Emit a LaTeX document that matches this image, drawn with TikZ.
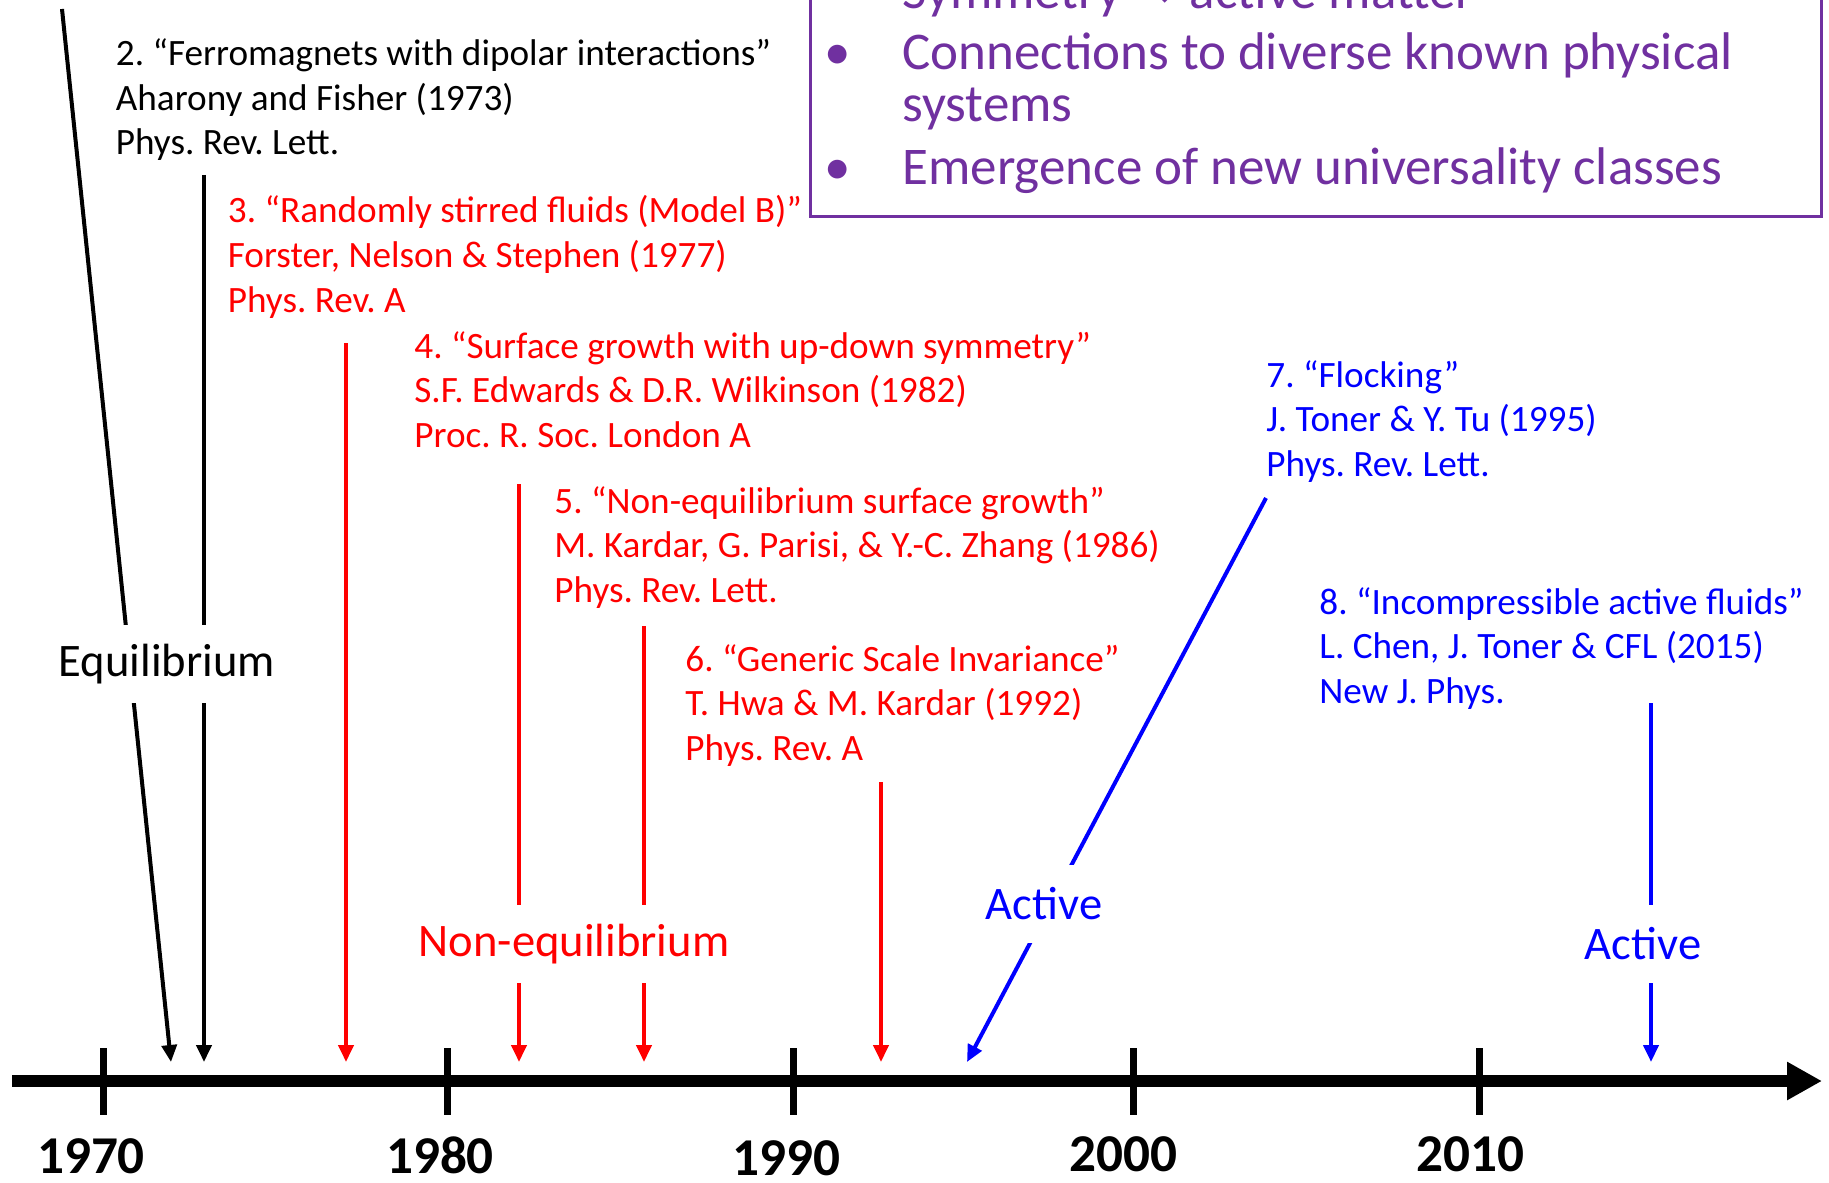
\documentclass[tikz,border=0pt]{standalone}
\usepackage{fontspec}
\setmainfont{Carlito}
\newfontfamily\symbolfont{DejaVu Sans}
\usetikzlibrary{arrows.meta}
\definecolor{pptpurple}{HTML}{7030A0}
\frenchspacing

\tikzset{
  paper/.style={anchor=base west, align=left, inner sep=0pt,
    font=\fontsize{18.6}{22.25}\selectfont},
  era/.style={fill=white, inner xsep=9pt, minimum height=39pt,
    font=\fontsize{23.3}{28}\selectfont},
  link/.style={line width=2pt, -{Triangle[length=8.5pt, width=7.5pt]}},
  yearlbl/.style={anchor=base, inner sep=0pt,
    font=\fontsize{26.6}{32}\selectfont\bfseries},
  point/.style={anchor=base west, inner sep=0pt, text=pptpurple,
    font=\fontsize{26.5}{26}\selectfont},
}

\begin{document}
\begin{tikzpicture}[x=0.5pt, y=-0.5pt]
  \useasboundingbox (0,0) rectangle (1829,1182);

  % Draw the time axis
  \coordinate (axL) at (12,1081);
  \coordinate (axR) at (1822,1081);
  \draw[line width=6pt, -{Triangle[length=17.5pt, width=18pt]}] (axL) -- (axR);

  % Ticks and decade labels
  \foreach \x/\lx/\yr/\yb in {103/91/1970/1173, 447/440/1980/1173,
      793/786/1990/1175, 1133/1123/2000/1171, 1479/1470/2010/1171}{
    \draw[line width=3.5pt] (\x,1048) -- (\x,1115);
    \node[yearlbl] (y\yr) at (\lx,\yb) {\yr};
  }

  % Start and end points of the arrows
  \coordinate (s1) at (62,9);     \coordinate (t1) at (171,1062);
  \coordinate (s2) at (204,175);  \coordinate (t2) at (204,1062);
  \coordinate (s3) at (346,343);  \coordinate (t3) at (346,1062);
  \coordinate (s4) at (519,484);  \coordinate (t4) at (519,1062);
  \coordinate (s5) at (644,626);  \coordinate (t5) at (644,1062);
  \coordinate (s6) at (881,782);  \coordinate (t6) at (881,1062);
  \coordinate (s7) at (1266,498); \coordinate (t7) at (967,1062);
  \coordinate (s8) at (1651,703); \coordinate (t8) at (1651,1062);

  % Arrows down to the axis
  \draw[link] (s1) -- (t1);
  \draw[link] (s2) -- (t2);
  \draw[link, red] (s3) -- (t3);
  \draw[link, red] (s4) -- (t4);
  \draw[link, red] (s5) -- (t5);
  \draw[link, red] (s6) -- (t6);
  \draw[link, blue] (s7) -- (t7);
  \draw[link, blue] (s8) -- (t8);

  % Labels sitting on the arrows
  \node[era] (eq) at (167,664) {Equilibrium};
  \node[era, text=red] (neq) at (574,944) {Non-equilibrium};
  \node[era, text=blue] (act1) at (1044,904) {Active};
  \node[era, text=blue] (act2) at (1643,944) {Active};

  % The papers (placed by the baseline of their last line)
  \node[paper] (p2) at (115.5,155) {2. “Ferromagnets with dipolar interactions”\\Aharony and Fisher (1973)\\Phys. Rev. Lett.};
  \node[paper, text=red] (p3) at (227.5,312) {3. “Randomly stirred fluids (Model B)”\\Forster, Nelson \& Stephen (1977)\\Phys. Rev. A};
  \node[paper, text=red] (p4) at (414,447) {4. “Surface growth with up-down symmetry”\\S.F. Edwards \& D.R. Wilkinson (1982)\\Proc. R. Soc. London A};
  \node[paper, text=red] (p5) at (554,602) {5. “Non-equilibrium surface growth”\\M. Kardar, G. Parisi, \& Y.-C. Zhang (1986)\\Phys. Rev. Lett.};
  \node[paper, text=red] (p6) at (685,760) {6. “Generic Scale Invariance”\\T. Hwa \& M. Kardar (1992)\\Phys. Rev. A};
  \node[paper, text=blue] (p7) at (1266,476) {7. “Flocking”\\J. Toner \& Y. Tu (1995)\\Phys. Rev. Lett.};
  \node[paper, text=blue] (p8) at (1319,703) {8. “Incompressible active fluids”\\L. Chen, J. Toner \& CFL (2015)\\New J. Phys.};

  % Purple box with the bullet points
  \draw[pptpurple, line width=1.5pt] (810,-20) rectangle (1821,217);
  \node[point] (b0) at (902,9) {Symmetry {\symbolfont →} active matter};
  \node[point, anchor=base] (d1) at (838,70) {•};
  \node[point] (b1) at (902,70) {Connections to diverse known physical};
  \node[point] (b1b) at (902,122) {systems};
  \node[point, anchor=base] (d2) at (838,185) {•};
  \node[point] (b2) at (902,185) {Emergence of new universality classes};
\end{tikzpicture}
\end{document}
